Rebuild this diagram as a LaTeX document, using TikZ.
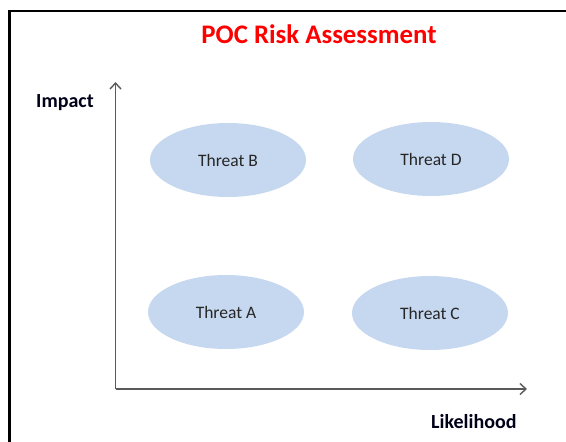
\documentclass[tikz,border=0pt]{standalone}
\usepackage{fontspec}
\setmainfont{Carlito}
\usetikzlibrary{shapes.geometric,arrows.meta}

\definecolor{threatfill}{HTML}{C6D8EF}
\definecolor{axisgray}{HTML}{5A5A5A}

\begin{document}
\begin{tikzpicture}[x=1pt,y=-1pt,
    threat/.style={ellipse,fill=threatfill,minimum width=156pt,minimum height=74pt,
      inner sep=0pt,font=\fontsize{17.5}{20}\selectfont,text=black!85},
    axislabel/.style={font=\fontsize{20}{24}\selectfont\bfseries,text=black!90!blue,anchor=base west,inner sep=0pt},
    axis/.style={draw=axisgray,line width=1.4pt,-{Straight Barb[length=6pt,width=11pt]}}]
  \useasboundingbox (0,0) rectangle (566,442);
  % frame
  \draw[line width=2.5pt] (566,11) -- (9.5,11) -- (9.5,442);

  \node[font=\fontsize{26.8}{30}\selectfont\bfseries,text=red,anchor=base,inner sep=0pt] (title) at (319,43) {POC Risk Assessment};

  % axes
  \coordinate (origin) at (115.5,389);
  \coordinate (ytop) at (115.5,82);
  \coordinate (xend) at (527,389);
  \draw[axis] (origin) -- (ytop);
  \draw[axis] (origin) -- (xend);
  \node[axislabel] (impact) at (36,107) {Impact};
  \node[axislabel] (likelihood) at (431,428) {Likelihood};

  \node[threat] (threatB) at (228,160) {Threat B};
  \node[threat] (threatD) at (431,159) {Threat D};
  \node[threat] (threatA) at (226,312) {Threat A};
  \node[threat] (threatC) at (430,313) {Threat C};

\end{tikzpicture}
\end{document}
